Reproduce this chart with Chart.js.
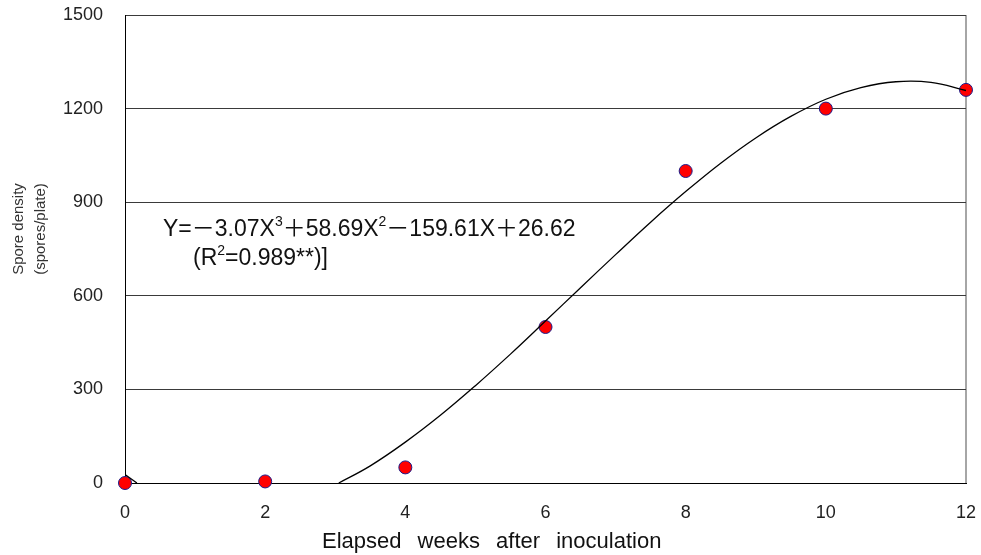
<!DOCTYPE html>
<html>
<head>
<meta charset="utf-8">
<script src="https://cdn.jsdelivr.net/npm/chart.js@4.4.1/dist/chart.umd.min.js"></script>
<style>
  body { margin: 0; background: #fff; }
  #wrap { width: 981px; height: 555px; position: relative; }
</style>
</head>
<body>
<div id="wrap"><canvas id="myChart"></canvas></div>
<script>
// observed spore counts
const weeks = [0, 2, 4, 6, 8, 10, 12];
const sporeDensity = [0, 5, 50, 500, 1000, 1200, 1260];

// fitted curve (null = curve below the axis, not shown)
const fitWeeks = [0, 0.17, 1.5, 3.05, 3.5, 4, 4.5, 5, 5.5, 6, 6.5, 7, 7.5, 8, 8.5, 9, 9.5, 10, 10.5, 11, 11.5, 12];
const fitValues = [27, 0, null, 0, 55, 131, 217, 312, 413, 519, 626, 732, 836, 934, 1025, 1106, 1175, 1230, 1267, 1286, 1284, 1258];

const xTicks = [0, 2, 4, 6, 8, 10, 12];
const yTicks = [0, 300, 600, 900, 1200, 1500];

const xTitle = 'Elapsed weeks after inoculation';
const yTitle = ['Spore density', '(spores/plate)'];
// [text, isSuperscript]
const equationLine1 = [['Y=', 0], ['－', 0], ['3.07X', 0], ['3', 1], ['＋', 0], ['58.69X', 0], ['2', 1], ['－', 0], ['159.61X', 0], ['＋', 0], ['26.62', 0]];
const equationLine2 = [['(R', 0], ['2', 1], ['=0.989**)]', 0]];

const FONT = '"Liberation Sans", Arial, "Noto Sans CJK KR", sans-serif';

function drawPieces(ctx, pieces, x, y, size) {
  pieces.forEach(([text, sup]) => {
    ctx.font = (sup ? Math.round(size * 0.6) : size) + 'px ' + FONT;
    ctx.fillText(text, x, sup ? y - size * 0.42 : y);
    x += ctx.measureText(text).width;
  });
}

// keep the plot box where the original has it, labels may hang over the edge
function noScalePadding(s) {
  s.paddingTop = 0;
  s.paddingBottom = 0;
  s.paddingLeft = 0;
  s.paddingRight = 0;
}

const textPlugin = {
  id: 'texts',
  afterDraw(chart) {
    const ctx = chart.ctx;
    ctx.save();
    ctx.fillStyle = '#111';
    ctx.textBaseline = 'alphabetic';
    ctx.textAlign = 'left';
    drawPieces(ctx, equationLine1, 163, 236, 23);
    drawPieces(ctx, equationLine2, 193, 265, 23);

    // x title, a bit of extra room between words like the original
    ctx.font = '22px ' + FONT;
    ctx.wordSpacing = '10px';
    ctx.fillText(xTitle, 322, 548);
    ctx.wordSpacing = '0px';

    // y title, rotated
    ctx.font = '15px ' + FONT;
    ctx.textAlign = 'center';
    ctx.translate(0, 229);
    ctx.rotate(-Math.PI / 2);
    ctx.fillStyle = '#333';
    ctx.fillText(yTitle[0], 0, 23);
    ctx.fillText(yTitle[1], 0, 45);
    ctx.restore();
  }
};

const ctx = document.getElementById('myChart').getContext('2d');
new Chart(ctx, {
  type: 'scatter',
  data: {
    datasets: [
      {
        data: fitWeeks.map((x, i) => ({ x: x, y: fitValues[i] })),
        showLine: true,
        borderColor: '#000',
        borderWidth: 1.3,
        pointRadius: 0,
        tension: 0.4,
        spanGaps: false,
        order: 0
      },
      {
        data: weeks.map((x, i) => ({ x: x, y: sporeDensity[i] })),
        backgroundColor: '#ff0000',
        borderColor: '#1c1c8a',
        borderWidth: 1,
        pointRadius: 6.5,
        clip: false,
        order: 1
      }
    ]
  },
  options: {
    responsive: true,
    maintainAspectRatio: false,
    animation: false,
    devicePixelRatio: 1,
    layout: { autoPadding: false, padding: { top: 15, right: 15, left: 0, bottom: 0 } },
    plugins: {
      legend: { display: false },
      tooltip: { enabled: false }
    },
    scales: {
      x: {
        type: 'linear',
        min: 0,
        max: 12,
        afterFit: (s) => { s.height = 72; noScalePadding(s); },
        afterBuildTicks: (s) => { s.ticks = xTicks.map(v => ({ value: v })); },
        ticks: { padding: 19, color: '#222', font: { family: FONT, size: 18 }, callback: (v) => String(v) },
        border: { display: true, color: '#000', width: 1 },
        grid: {
          drawTicks: false,
          lineWidth: 2,
          color: (c) => (c.tick && c.tick.value === 12 ? '#a6a6a6' : 'rgba(0,0,0,0)')
        }
      },
      y: {
        min: 0,
        max: 1500,
        afterFit: (s) => { s.width = 125; noScalePadding(s); },
        afterBuildTicks: (s) => { s.ticks = yTicks.map(v => ({ value: v })); },
        ticks: { padding: 22, color: '#222', font: { family: FONT, size: 18 }, callback: (v) => String(v) },
        border: { display: true, color: '#000', width: 1 },
        grid: { drawTicks: false, color: '#3a3a3a', lineWidth: 1 }
      }
    }
  },
  plugins: [textPlugin]
});
</script>
</body>
</html>
